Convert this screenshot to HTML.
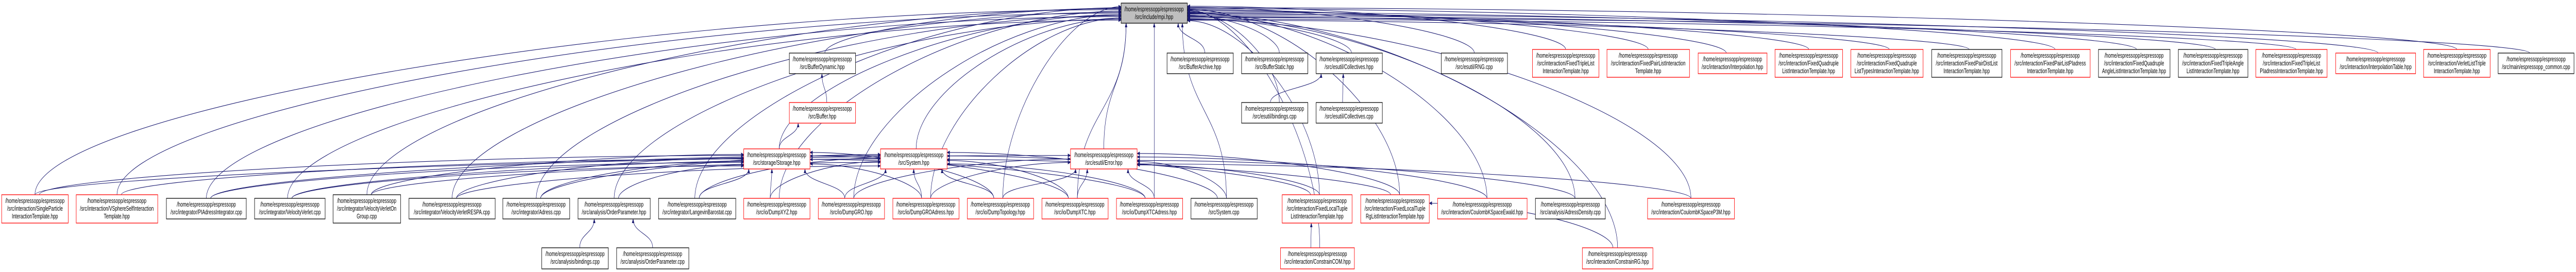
<!DOCTYPE html>
<html><head><meta charset="utf-8">
<style>
html,body{margin:0;padding:0;background:#fff;width:100%;height:100%;overflow:hidden;}
svg{display:block;width:100vw;height:100vh;position:absolute;left:0;top:0;}
text{font-family:"Liberation Sans",Arial,sans-serif;font-size:13px;fill:#000;text-anchor:middle;}
rect{stroke-width:1.3;}
.r{fill:#fff;stroke:#ff0000;}
.b{fill:#fff;stroke:#000;}
.g{fill:#bfbfbf;stroke:#000;}
path.e{fill:none;stroke:#191970;stroke-width:1.1;}
</style></head>
<body>
<svg id="s" viewBox="0 0 7741 528" preserveAspectRatio="none" xmlns="http://www.w3.org/2000/svg">
<defs><marker id="a" viewBox="0 0 10 10" refX="9" refY="5" markerWidth="9" markerHeight="9" markerUnits="userSpaceOnUse" orient="auto"><path d="M0,1 L10,5 L0,9 z" fill="#191970"/></marker></defs>
<g id="edges"></g>
<g id="nodes">
<rect class="g" x="3369" y="6" width="199" height="39"/><text x="3468" y="22">/home/espressopp/espressopp</text><text x="3468" y="37">/src/include/mpi.hpp</text>

<rect class="b" x="2372" y="103" width="199" height="40"/><text x="2471" y="119">/home/espressopp/espressopp</text><text x="2471" y="134">/src/BufferDynamic.hpp</text>
<rect class="b" x="3507" y="103" width="199" height="40"/><text x="3606" y="119">/home/espressopp/espressopp</text><text x="3606" y="134">/src/BufferArchive.hpp</text>
<rect class="b" x="3731" y="103" width="199" height="40"/><text x="3830" y="119">/home/espressopp/espressopp</text><text x="3830" y="134">/src/BufferStatic.hpp</text>
<rect class="b" x="3955" y="103" width="199" height="40"/><text x="4054" y="119">/home/espressopp/espressopp</text><text x="4054" y="134">/src/esutil/Collectives.hpp</text>
<rect class="b" x="4331" y="103" width="199" height="40"/><text x="4430" y="119">/home/espressopp/espressopp</text><text x="4430" y="134">/src/esutil/RNG.cpp</text>
<rect class="r" x="5103" y="103" width="207" height="40"/><text x="5206" y="119">/home/espressopp/espressopp</text><text x="5206" y="134">/src/interaction/Interpolation.hpp</text>
<rect class="r" x="7019" y="103" width="240" height="40"/><text x="7139" y="119">/home/espressopp/espressopp</text><text x="7139" y="134">/src/interaction/InterpolationTable.hpp</text>
<rect class="b" x="7507" y="103" width="228" height="40"/><text x="7621" y="119">/home/espressopp/espressopp</text><text x="7621" y="134">/src/main/espressopp_common.cpp</text>

<rect class="r" x="4605" y="96" width="200" height="54"/><text x="4705" y="112">/home/espressopp/espressopp</text><text x="4705" y="127">/src/interaction/FixedTripleList</text><text x="4705" y="142">InteractionTemplate.hpp</text>
<rect class="r" x="4829" y="96" width="248" height="54"/><text x="4953" y="112">/home/espressopp/espressopp</text><text x="4953" y="127">/src/interaction/FixedPairListInteraction</text><text x="4953" y="142">Template.hpp</text>
<rect class="r" x="5334" y="96" width="203" height="54"/><text x="5435" y="112">/home/espressopp/espressopp</text><text x="5435" y="127">/src/interaction/FixedQuadruple</text><text x="5435" y="142">ListInteractionTemplate.hpp</text>
<rect class="r" x="5562" y="96" width="217" height="54"/><text x="5670" y="112">/home/espressopp/espressopp</text><text x="5670" y="127">/src/interaction/FixedQuadruple</text><text x="5670" y="142">ListTypesInteractionTemplate.hpp</text>
<rect class="b" x="5805" y="96" width="211" height="54"/><text x="5910" y="112">/home/espressopp/espressopp</text><text x="5910" y="127">/src/interaction/FixedPairDistList</text><text x="5910" y="142">InteractionTemplate.hpp</text>
<rect class="r" x="6042" y="96" width="239" height="54"/><text x="6161" y="112">/home/espressopp/espressopp</text><text x="6161" y="127">/src/interaction/FixedPairListPIadress</text><text x="6161" y="142">InteractionTemplate.hpp</text>
<rect class="b" x="6306" y="96" width="215" height="54"/><text x="6413" y="112">/home/espressopp/espressopp</text><text x="6413" y="127">/src/interaction/FixedQuadruple</text><text x="6413" y="142">AngleListInteractionTemplate.hpp</text>
<rect class="b" x="6546" y="96" width="209" height="54"/><text x="6650" y="112">/home/espressopp/espressopp</text><text x="6650" y="127">/src/interaction/FixedTripleAngle</text><text x="6650" y="142">ListInteractionTemplate.hpp</text>
<rect class="r" x="6779" y="96" width="214" height="54"/><text x="6886" y="112">/home/espressopp/espressopp</text><text x="6886" y="127">/src/interaction/FixedTripleList</text><text x="6886" y="142">PIadressInteractionTemplate.hpp</text>
<rect class="r" x="7283" y="96" width="200" height="54"/><text x="7383" y="112">/home/espressopp/espressopp</text><text x="7383" y="127">/src/interaction/VerletListTriple</text><text x="7383" y="142">InteractionTemplate.hpp</text>

<rect class="r" x="2372" y="199" width="199" height="40"/><text x="2471" y="215">/home/espressopp/espressopp</text><text x="2471" y="230">/src/Buffer.hpp</text>
<rect class="b" x="3731" y="199" width="199" height="40"/><text x="3830" y="215">/home/espressopp/espressopp</text><text x="3830" y="230">/src/esutil/bindings.cpp</text>
<rect class="b" x="3955" y="199" width="199" height="40"/><text x="4054" y="215">/home/espressopp/espressopp</text><text x="4054" y="230">/src/esutil/Collectives.cpp</text>

<rect class="r" x="2235" y="289" width="199" height="39"/><text x="2334" y="305">/home/espressopp/espressopp</text><text x="2334" y="320">/src/storage/Storage.hpp</text>
<rect class="r" x="2646" y="289" width="200" height="39"/><text x="2746" y="305">/home/espressopp/espressopp</text><text x="2746" y="320">/src/System.hpp</text>
<rect class="r" x="3217" y="289" width="200" height="39"/><text x="3317" y="305">/home/espressopp/espressopp</text><text x="3317" y="320">/src/esutil/Error.hpp</text>

<rect class="r" x="5" y="378" width="200" height="55"/><text x="105" y="394">/home/espressopp/espressopp</text><text x="105" y="409">/src/interaction/SingleParticle</text><text x="105" y="424">InteractionTemplate.hpp</text>
<rect class="r" x="229" y="378" width="245" height="55"/><text x="351" y="394">/home/espressopp/espressopp</text><text x="351" y="409">/src/interaction/VSphereSelfInteraction</text><text x="351" y="424">Template.hpp</text>
<rect class="b" x="500" y="385" width="240" height="40"/><text x="620" y="401">/home/espressopp/espressopp</text><text x="620" y="416">/src/integrator/PIAdressIntegrator.cpp</text>
<rect class="b" x="765" y="385" width="212" height="40"/><text x="871" y="401">/home/espressopp/espressopp</text><text x="871" y="416">/src/integrator/VelocityVerlet.cpp</text>
<rect class="b" x="1001" y="378" width="203" height="55"/><text x="1102" y="394">/home/espressopp/espressopp</text><text x="1102" y="409">/src/integrator/VelocityVerletOn</text><text x="1102" y="424">Group.cpp</text>
<rect class="b" x="1229" y="385" width="259" height="40"/><text x="1358" y="401">/home/espressopp/espressopp</text><text x="1358" y="416">/src/integrator/VelocityVerletRESPA.cpp</text>
<rect class="b" x="1511" y="385" width="201" height="40"/><text x="1611" y="401">/home/espressopp/espressopp</text><text x="1611" y="416">/src/integrator/Adress.cpp</text>
<rect class="b" x="1737" y="385" width="217" height="40"/><text x="1845" y="401">/home/espressopp/espressopp</text><text x="1845" y="416">/src/analysis/OrderParameter.hpp</text>
<rect class="b" x="1979" y="385" width="232" height="40"/><text x="2095" y="401">/home/espressopp/espressopp</text><text x="2095" y="416">/src/integrator/LangevinBarostat.cpp</text>
<rect class="r" x="2235" y="385" width="199" height="40"/><text x="2334" y="401">/home/espressopp/espressopp</text><text x="2334" y="416">/src/io/DumpXYZ.hpp</text>
<rect class="r" x="2459" y="385" width="199" height="40"/><text x="2558" y="401">/home/espressopp/espressopp</text><text x="2558" y="416">/src/io/DumpGRO.hpp</text>
<rect class="r" x="2683" y="385" width="199" height="40"/><text x="2782" y="401">/home/espressopp/espressopp</text><text x="2782" y="416">/src/io/DumpGROAdress.hpp</text>
<rect class="r" x="2907" y="385" width="199" height="40"/><text x="3006" y="401">/home/espressopp/espressopp</text><text x="3006" y="416">/src/io/DumpTopology.hpp</text>
<rect class="r" x="3131" y="385" width="199" height="40"/><text x="3230" y="401">/home/espressopp/espressopp</text><text x="3230" y="416">/src/io/DumpXTC.hpp</text>
<rect class="r" x="3355" y="385" width="199" height="40"/><text x="3454" y="401">/home/espressopp/espressopp</text><text x="3454" y="416">/src/io/DumpXTCAdress.hpp</text>
<rect class="b" x="3579" y="385" width="199" height="40"/><text x="3678" y="401">/home/espressopp/espressopp</text><text x="3678" y="416">/src/System.cpp</text>
<rect class="r" x="3853" y="378" width="210" height="55"/><text x="3958" y="394">/home/espressopp/espressopp</text><text x="3958" y="409">/src/interaction/FixedLocalTuple</text><text x="3958" y="424">ListInteractionTemplate.hpp</text>
<rect class="r" x="4089" y="378" width="206" height="55"/><text x="4192" y="394">/home/espressopp/espressopp</text><text x="4192" y="409">/src/interaction/FixedLocalTuple</text><text x="4192" y="424">RgListInteractionTemplate.hpp</text>
<rect class="r" x="4320" y="385" width="269" height="40"/><text x="4454" y="401">/home/espressopp/espressopp</text><text x="4454" y="416">/src/interaction/CoulombKSpaceEwald.hpp</text>
<rect class="b" x="4614" y="385" width="210" height="40"/><text x="4719" y="401">/home/espressopp/espressopp</text><text x="4719" y="416">/src/analysis/AdressDensity.cpp</text>
<rect class="r" x="4951" y="385" width="261" height="40"/><text x="5081" y="401">/home/espressopp/espressopp</text><text x="5081" y="416">/src/interaction/CoulombKSpaceP3M.hpp</text>

<rect class="b" x="1628" y="481" width="200" height="41"/><text x="1728" y="497">/home/espressopp/espressopp</text><text x="1728" y="512">/src/analysis/bindings.cpp</text>
<rect class="b" x="1853" y="481" width="217" height="41"/><text x="1961" y="497">/home/espressopp/espressopp</text><text x="1961" y="512">/src/analysis/OrderParameter.cpp</text>
<rect class="r" x="3848" y="481" width="222" height="41"/><text x="3959" y="497">/home/espressopp/espressopp</text><text x="3959" y="512">/src/interaction/ConstrainCOM.hpp</text>
<rect class="r" x="4755" y="481" width="212" height="41"/><text x="4861" y="497">/home/espressopp/espressopp</text><text x="4861" y="512">/src/interaction/ConstrainRG.hpp</text>
</g>
</svg>
<script>
var N={mpi:[3369,6,3568,45],bdyn:[2372,103,2571,143],barch:[3507,103,3706,143],bstat:[3731,103,3930,143],colh:[3955,103,4154,143],rng:[4331,103,4530,143],interp:[5103,103,5310,143],itab:[7019,103,7259,143],common:[7507,103,7735,143],
ftl:[4605,96,4805,150],fpl:[4829,96,5077,150],fql:[5334,96,5537,150],fqlt:[5562,96,5779,150],fpdl:[5805,96,6016,150],fplpi:[6042,96,6281,150],fqal:[6306,96,6521,150],ftal:[6546,96,6755,150],ftlpi:[6779,96,6993,150],vlt:[7283,96,7483,150],
buf:[2372,199,2571,239],ebind:[3731,199,3930,239],colc:[3955,199,4154,239],
stor:[2235,289,2434,328],sysh:[2646,289,2846,328],err:[3217,289,3417,328],
spi:[5,378,205,433],vss:[229,378,474,433],pia:[500,385,740,425],vv:[765,385,977,425],vvg:[1001,378,1204,433],vvr:[1229,385,1488,425],adr:[1511,385,1712,425],oph:[1737,385,1954,425],lb:[1979,385,2211,425],dxyz:[2235,385,2434,425],dgro:[2459,385,2658,425],dgroa:[2683,385,2882,425],dtop:[2907,385,3106,425],dxtc:[3131,385,3330,425],dxtca:[3355,385,3554,425],sysc:[3579,385,3778,425],fltl:[3853,378,4063,433],fltrg:[4089,378,4295,433],ewald:[4320,385,4589,425],adens:[4614,385,4824,425],p3m:[4951,385,5212,425],
abind:[1628,481,1828,522],opc:[1853,481,2070,522],ccom:[3848,481,4070,522],crg:[4755,481,4967,522]};
var E=[];
["spi","vss","pia","vv","vvg","vvr","adr","oph","lb","dxyz","dgro","dgroa","dtop","dxtc","dxtca","sysc","fltl","fltrg","ewald","adens","p3m","bdyn","barch","bstat","colh","rng","interp","itab","common","ftl","fpl","fql","fqlt","fpdl","fplpi","fqal","ftal","ftlpi","vlt","ebind","stor","sysh","err","ccom","crg"].forEach(function(s){E.push([s,"mpi"]);});
E.push(["buf","bdyn"],["stor","buf"],["colc","colh"],["ebind","colh"],["abind","oph"],["opc","oph"],["ccom","fltl"],["crg","fltrg"]);
["spi","vss","pia","vv","vvg","vvr","adr","oph","lb","dxyz","dgro","dgroa","dtop","dxtc","dxtca"].forEach(function(s){E.push([s,"stor"]);});
["pia","vv","vvg","vvr","adr","lb","dxyz","dgro","dgroa","dtop","dxtc","dxtca","sysc","fltl","fltrg"].forEach(function(s){E.push([s,"sysh"]);});
["spi","dgro","dgroa","dtop","dxtc","dxtca","sysc","fltl","fltrg","ewald","adens","p3m"].forEach(function(s){E.push([s,"err"]);});
var g=document.getElementById("edges"),out="",cnt={};
E.forEach(function(e){
 var s=N[e[0]],t=N[e[1]];
 var sx=(s[0]+s[2])/2+((e[0].length*7+e[1].length*13)%40-20), sy=s[1];
 var k=e[1]; cnt[k]=(cnt[k]||0)+1; var off=(cnt[k]*7)%30;
 var ex,ey,c1x,c1y,c2x,c2y;
 if(sx<t[0]-250){ex=t[0];ey=t[1]+6+off*(t[3]-t[1]-10)/30;c1x=sx;c1y=sy-(sy-ey)*0.45;c2x=sx+(ex-sx)*0.55;c2y=ey;}
 else if(sx>t[2]+250){ex=t[2];ey=t[1]+6+off*(t[3]-t[1]-10)/30;c1x=sx;c1y=sy-(sy-ey)*0.45;c2x=sx+(ex-sx)*0.55;c2y=ey;}
 else{ex=Math.max(t[0]+15,Math.min(t[2]-15,sx*0.5+(t[0]+t[2])/4+off-15));ey=t[3];var m=(sy+ey)/2;c1x=sx;c1y=m;c2x=ex;c2y=m;}
 out+='<path class="e" marker-end="url(#a)" d="M'+sx+','+sy+' C'+c1x+','+c1y+' '+c2x+','+c2y+' '+ex+','+ey+'"/>';
});
g.innerHTML=out;
</script>
</body></html>
